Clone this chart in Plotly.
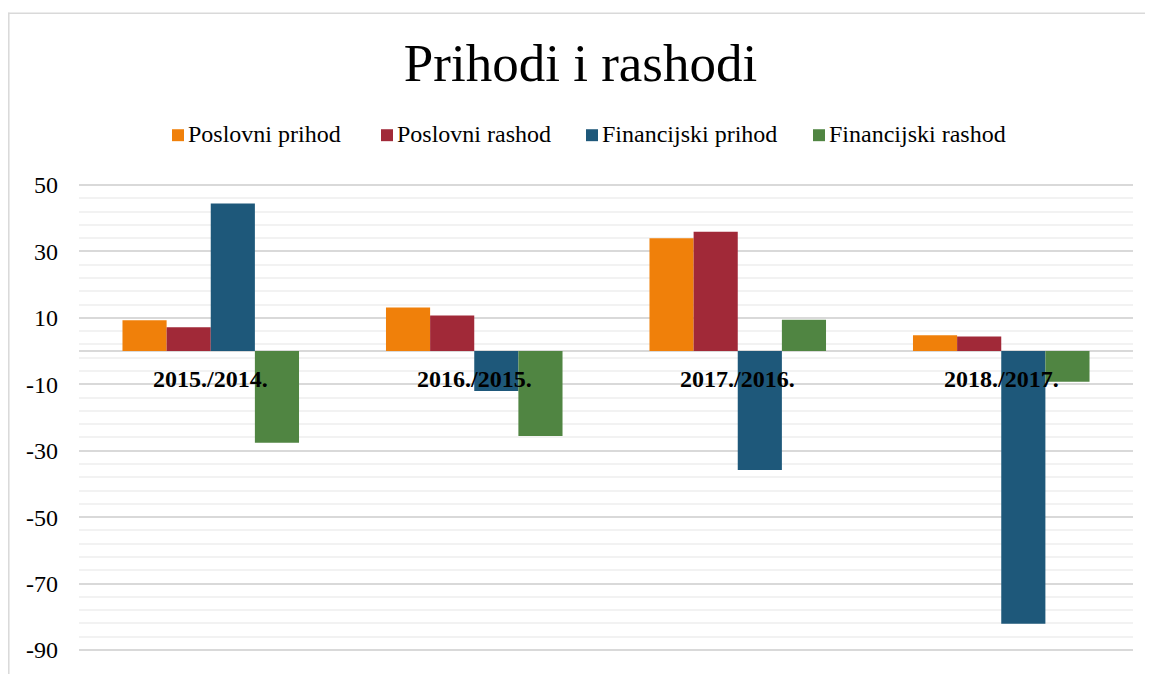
import plotly.graph_objects as go

categories = ["2015./2014.", "2016./2015.", "2017./2016.", "2018./2017."]
poslovni_prihod = [9.3, 13.1, 34.0, 4.8]
poslovni_rashod = [7.2, 10.7, 35.9, 4.4]
financijski_prihod = [44.4, -12.0, -35.8, -82.1]
financijski_rashod = [-27.6, -25.6, 9.4, -9.2]

tick_values = [-90, -70, -50, -30, -10, 10, 30, 50]
tick_labels = ["-90", "-70", "-50", "-30", "-10", "10", "30", "50"]

series_names = ["Poslovni prihod", "Poslovni rashod", "Financijski prihod", "Financijski rashod"]
series_values = [poslovni_prihod, poslovni_rashod, financijski_prihod, financijski_rashod]
series_colors = ["#F0800A", "#A12938", "#1E587A", "#508542"]

FONT = "Liberation Serif, Times New Roman, serif"

fig = go.Figure()
for name, vals, color in zip(series_names, series_values, series_colors):
    fig.add_trace(go.Bar(name=name, x=categories, y=vals, marker_color=color,
                         marker_line_width=0, showlegend=False))

# The page body has an 8px margin; geometry below is in page pixels.
OFF = 8
PAGE_W, PAGE_H = 1153, 675
PL, PR, PT, PB = 79, 1133, 183, 654   # plot area in page pixels
W, H = PAGE_W - OFF, PAGE_H - OFF
Y_RANGE = [-90.6, 50.6]


def px_x(x):
    return (x - PL) / (PR - PL)


def px_y(y):
    return (PB - y) / (PB - PT)


for c in categories:
    fig.add_annotation(x=c, y=0, xref="x", yref="y", text=f"<b>{c}</b>",
                       showarrow=False, yanchor="middle", yshift=-28,
                       font=dict(family=FONT, size=24, color="black"))

# manual legend (square + label)
legend_left = [172, 381, 586, 813]
for name, color, lx in zip(series_names, series_colors, legend_left):
    fig.add_shape(type="rect", xref="paper", yref="paper",
                  x0=px_x(lx), x1=px_x(lx + 12), y0=px_y(141), y1=px_y(129),
                  fillcolor=color, line_width=0)
    fig.add_annotation(x=px_x(lx + 14), y=px_y(134), xref="paper", yref="paper",
                       text=name, showarrow=False, xanchor="left", yanchor="middle",
                       font=dict(family=FONT, size=24, color="black"))

# chart border (top and left)
fig.add_shape(type="line", xref="paper", yref="paper",
              x0=px_x(8), x1=px_x(1153), y0=px_y(12.5), y1=px_y(12.5),
              line=dict(color="#d9d9d9", width=1.5))
fig.add_shape(type="line", xref="paper", yref="paper",
              x0=px_x(8.8), x1=px_x(8.8), y0=px_y(12), y1=px_y(676),
              line=dict(color="#d9d9d9", width=1.5))

fig.update_layout(
    width=W, height=H,
    margin=dict(l=PL - OFF, r=PAGE_W - PR, t=PT - OFF, b=PAGE_H - PB, pad=0),
    paper_bgcolor="white", plot_bgcolor="white",
    showlegend=False,
    title=dict(text="Prihodi i rashodi", x=0.5, xanchor="center",
               y=1 - (62 - OFF) / H, yanchor="middle",
               font=dict(family=FONT, size=53, color="black")),
    barmode="group", bargap=0.33, bargroupgap=0,
    font=dict(family=FONT, color="black"),
    xaxis=dict(showticklabels=False, showgrid=False, showline=False,
               zeroline=False, range=[-0.5, 3.5]),
    yaxis=dict(range=Y_RANGE, tickmode="array", tickvals=tick_values,
               ticktext=tick_labels, showgrid=True,
               gridcolor="#d9d9d9", gridwidth=1.5, zeroline=True,
               zerolinecolor="#d9d9d9", zerolinewidth=1.5, showline=False,
               ticks="", ticklabelstandoff=20,
               tickfont=dict(family=FONT, size=24, color="black"),
               minor=dict(tickmode="linear", tick0=-90, dtick=4, showgrid=True,
                          gridcolor="#f2f2f2", gridwidth=1.5)),
)

fig.write_html("out.html")
